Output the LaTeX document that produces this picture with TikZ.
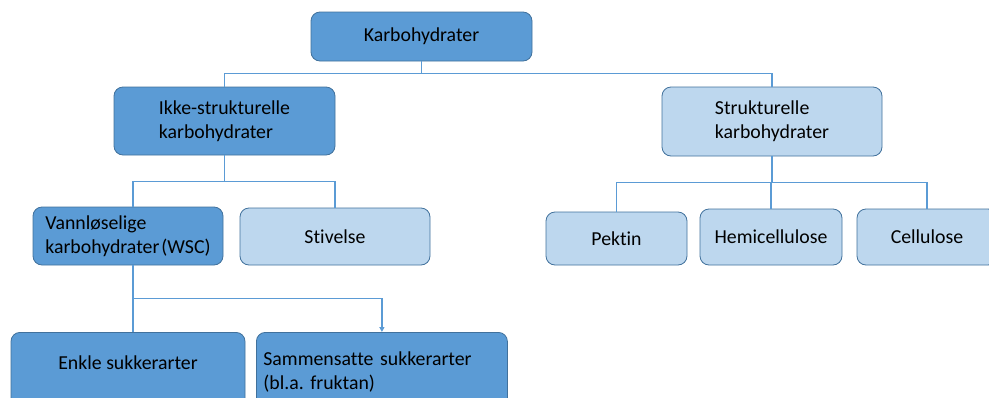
\documentclass[tikz,border=0pt]{standalone}
\usepackage{fontspec}
\setmainfont{Carlito}[Ligatures=NoCommon]
\usetikzlibrary{arrows.meta}
\definecolor{darkfill}{HTML}{5B9BD5}
\definecolor{lightfill}{HTML}{BDD7EE}
\definecolor{boxline}{HTML}{41719C}
\tikzset{
  darkbox/.style={draw=boxline,fill=darkfill,rounded corners=9pt,line width=0.8pt,
    font=\fontsize{19.8}{24}\selectfont\frenchspacing,inner sep=0pt},
  lightbox/.style={darkbox,fill=lightfill},
  link/.style={draw=darkfill,line width=1.8pt}
}
\begin{document}
\begin{tikzpicture}[x=1pt,y=-1pt]
      \useasboundingbox (0,0) rectangle (989,397);
      \clip (0,0) rectangle (989,397);
      % top level
      \path (421.5,36.5) node[darkbox,minimum width=221pt,minimum height=49pt] (karb) {Karbohydrater};
      \path (224.5,121) node[darkbox,minimum width=221pt,minimum height=68pt,align=left] (ikke) {Ikke-strukturelle\\karbohydrater};
      \path (772,121.5) node[lightbox,minimum width=220pt,minimum height=69pt,align=left] (struk) {Strukturelle\\karbohydrater};
      % second level
      \path (128,236) node[darkbox,minimum width=190pt,minimum height=58pt,align=left] (vann) {Vannløselige\\karbohydrater\hspace{2pt}(WSC)};
      \path (335,236.5) node[lightbox,minimum width=190pt,minimum height=57pt] (stiv) {Stivelse};
      \path (616.5,238.5) node[lightbox,minimum width=141pt,minimum height=53pt] (pektin) {Pektin};
      \path (771,237) node[lightbox,minimum width=142pt,minimum height=56pt] (hemi) {Hemicellulose};
      \path (927,237) node[lightbox,minimum width=140pt,minimum height=56pt] (cell) {Cellulose};
      % bottom level, cut off by the page
      \path (128,332) node[darkbox,anchor=north,minimum width=234pt,inner ysep=7pt,
        text height=30pt,text depth=60pt] (enkle) {Enkle sukkerarter};
      \path (256,332) node[darkbox,anchor=north west,text width=237pt,inner xsep=7pt,
        inner ysep=19pt,align=left] (samm) {Sammensatte sukkerarter\\(bl.a. fruktan)};
      % connectors
      \draw[link] (karb.south) -- ++(0,12) -| (ikke.north);
      \draw[link] (karb.south) -- ++(0,12) -| (struk.north);
      \draw[link] (ikke.south) -- ++(0,26) -| ([xshift=5pt]vann.north);
      \draw[link] (ikke.south) -- ++(0,26) -| (stiv.north);
      \draw[link] (struk.south) -- ++(0,26) -| (pektin.north);
      \draw[link] (struk.south) -- ++(0,26) -| (hemi.north);
      \draw[link] (struk.south) -- ++(0,26) -| (cell.north);
      \draw[link] ([xshift=5pt]vann.south) -- ([xshift=5pt]enkle.north);
      \draw[link,-{Triangle[length=5pt,width=5pt]}] ([xshift=5pt]vann.south) ++(0,33) -| (samm.north);
\end{tikzpicture}
\end{document}
